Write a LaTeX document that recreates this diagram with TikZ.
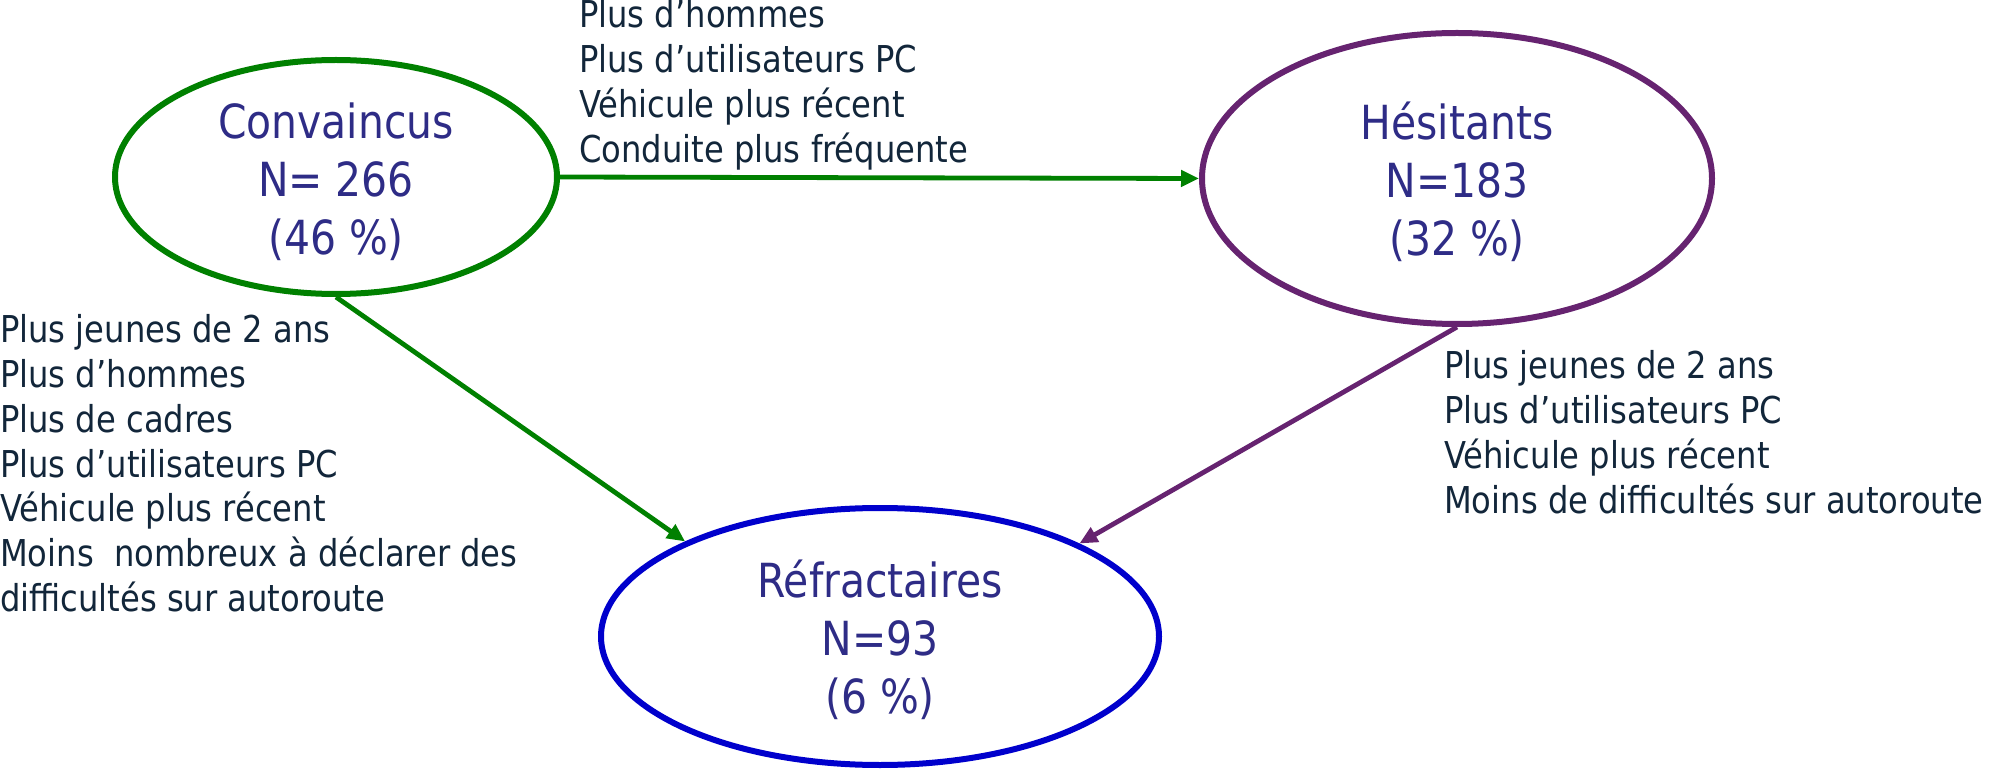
\documentclass[tikz,border=0pt]{standalone}
\usepackage{fontspec}
\setmainfont[FakeStretch=0.87]{DejaVu Sans}
\usetikzlibrary{shapes.geometric,arrows.meta}
\definecolor{cgreen}{RGB}{0,128,0}
\definecolor{cpurple}{RGB}{102,35,112}
\definecolor{cblue}{RGB}{0,0,204}
\definecolor{ctitle}{RGB}{46,44,134}
\definecolor{clabel}{RGB}{18,38,58}
\begin{document}
\begin{tikzpicture}[x=1pt,y=-1pt,
  ell/.style={ellipse,draw,line width=6pt,inner sep=0pt},
  ttl/.style={text=ctitle,font=\fontsize{47}{58}\selectfont,inner sep=0pt,anchor=base},
  lbl/.style={text=clabel,font=\fontsize{37}{44.7}\selectfont,inner sep=0pt,anchor=base west},
  conn/.style={line width=4.8pt,-{Triangle[length=18pt,width=16pt]}}
]
\useasboundingbox (0,0) rectangle (1990,775);
% ellipses
\node[ell,draw=cgreen,minimum width=442pt,minimum height=234pt] (conv) at (336,177) {};
\node[ell,draw=cpurple,minimum width=510pt,minimum height=291pt] (hes) at (1457,178.5) {};
\node[ell,draw=cblue,minimum width=558pt,minimum height=257pt] (refr) at (880,636.5) {};
% titles
\node[ttl] (convT) at (336,139) {\begin{tabular}[t]{@{}c@{}}Convaincus\\N= 266\\(46 \%)\end{tabular}};
\node[ttl] (hesT) at (1457,140) {\begin{tabular}[t]{@{}c@{}}Hésitants\\N=183\\(32 \%)\end{tabular}};
\node[ttl] (refrT) at (880,597) {\begin{tabular}[t]{@{}c@{}}Réfractaires\\N=93\\(6 \%)\end{tabular}};
% connectors
\draw[conn,cgreen] (conv.east) -- (hes.west);
\draw[conn,cgreen] (conv.south) -- (refr.154.7);
\draw[conn,cpurple] (hes.south) -- (refr.25.3);
% labels
\node[lbl] (lblTop) at (579,28) {\begin{tabular}[t]{@{}l@{}}Plus d’hommes\\Plus d’utilisateurs PC\\Véhicule plus récent\\Conduite plus fréquente\end{tabular}};
\node[lbl] (lblLeft) at (0,343) {\begin{tabular}[t]{@{}l@{}}Plus jeunes de 2 ans\\Plus d’hommes\\Plus de cadres\\Plus d’utilisateurs PC\\Véhicule plus récent\\Moins\ \ nombreux à déclarer des\\difficultés sur autoroute\end{tabular}};
\node[lbl] (lblRight) at (1444,379) {\begin{tabular}[t]{@{}l@{}}Plus jeunes de 2 ans\\Plus d’utilisateurs PC\\Véhicule plus récent\\Moins de difficultés sur autoroute\end{tabular}};
\end{tikzpicture}
\end{document}
